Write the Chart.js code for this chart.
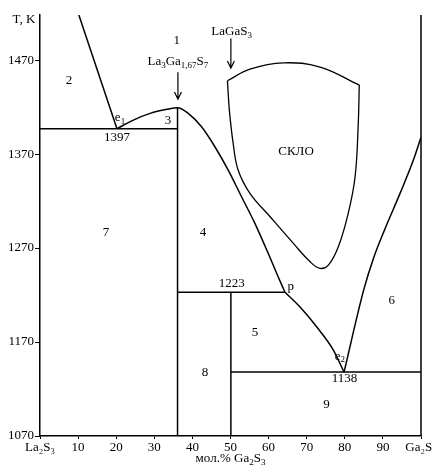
<!DOCTYPE html>
<html><head><meta charset="utf-8">
<script src="https://cdn.jsdelivr.net/npm/chart.js@4"></script>
<style>html,body{margin:0;padding:0;background:#fff}</style>
</head><body>
<canvas id="c" width="432" height="469"></canvas>
<script>
// ---- data (composition in mol.% Ga2S3, temperature in K) ----
const xTicks = [0,10,20,30,40,50,60,70,80,90,100];
const xTickLabels = ['La₂S₃','10','20','30','40','50','60','70','80','90','Ga₂S₃'];
const yTicks = [1070,1170,1270,1370,1470];
const yMin = 1070, yMax = 1518;

const liquidusLeft = [[10.2,1518],[20.2,1397]];
const liquidusMax = [[20.2,1397],[24.5,1406.2],[28.9,1413.3],[33.3,1417.6],[36.1,1419.3],[38.9,1413.3],[42.4,1399],[45.9,1377.8],[49.4,1353],[52.9,1324.6],[56.4,1296.3],[59.9,1264.4],[62.5,1239.5],[64.3,1223]];
const liquidusPE = [[64.3,1223],[68.2,1207.6],[72.6,1186.3],[77.0,1161.5],[79.8,1138]];
const liquidusRight = [[79.8,1138],[85.0,1226],[87.6,1260],[90.3,1288],[94.5,1328.2],[98.0,1363.6],[100,1388]];
const compoundLine = [[36.1,1070],[36.1,1419.3]];
const laGaS3Line = [[50.1,1070],[50.1,1223]];
const eutectic1 = [[0,1397],[36.1,1397]];
const peritectic = [[36.1,1223],[64.3,1223]];
const eutectic2 = [[50.1,1138],[100,1138]];
const rightEdge = [[100,1070],[100,1518]];
const glassTop = [[49.2,1448],[55.1,1460.4],[63.9,1467.1],[73.5,1462.6],[83.8,1443.4]];
const glassSides = [[83.8,1443.4],[83.5,1399],[82.7,1345.9],[80.9,1306.9],[78.3,1271.4],[75.7,1251.9],[73.5,1248.4],[70.9,1255.4],[66.5,1275],[60.4,1303.3],[55.1,1328.2],[52.0,1353],[50.7,1381.4],[49.7,1416.8],[49.2,1448]];

const regionLabels = ['1','2','3','4','5','6','7','8','9'];
const regionX = [35.9,7.6,33.6,42.8,56.4,92.3,17.3,43.3,75.2];
const regionY = [1491,1448,1406,1286,1180,1214,1287,1138,1103];
// rich labels: parts of [text, isSubscript]
const pointLabels = [
  {parts:[['e',0],['1',1]], x:21.0, y:1409},
  {parts:[['1397',0]], x:20.2, y:1388},
  {parts:[['1223',0]], x:50.3, y:1232},
  {parts:[['p',0]], x:65.8, y:1229},
  {parts:[['e',0],['2',1]], x:78.7, y:1155},
  {parts:[['1138',0]], x:79.9, y:1131},
  {parts:[['СКЛО',0]], x:67.2, y:1373},
  {parts:[['La',0],['3',1],['Ga',0],['1,67',1],['S',0],['7',1]], x:36.2, y:1468},
  {parts:[['LaGaS',0],['3',1]], x:50.3, y:1500}
];
const arrows = [[36.2,1457,1428.5],[50.1,1493,1461.5]];

const FONT = '"Liberation Serif", "Times New Roman", serif';
const toPts = a => a.map(p => ({x:p[0], y:p[1]}));
function ds(arr, extra){ return Object.assign({data:toPts(arr), showLine:true, pointRadius:0, borderColor:'#000', borderWidth:1.5, fill:false, tension:0}, extra||{}); }

function drawRich(ctx, parts, cx, cy){
  const big = '13px ' + FONT, small = '9px ' + FONT;
  let w = 0;
  parts.forEach(p => { ctx.font = p[1] ? small : big; w += ctx.measureText(p[0]).width; });
  let x = cx - w/2;
  ctx.textAlign = 'left'; ctx.textBaseline = 'middle';
  parts.forEach(p => { ctx.font = p[1] ? small : big; ctx.fillText(p[0], x, p[1] ? cy+4 : cy); x += ctx.measureText(p[0]).width; });
}

const annot = {
  id:'annot',
  afterDatasetsDraw(chart){
    const ctx = chart.ctx, xs = chart.scales.x, ys = chart.scales.y;
    ctx.save();
    ctx.fillStyle = '#000';
    ctx.font = '13px ' + FONT; ctx.textAlign='center'; ctx.textBaseline='middle';
    regionLabels.forEach((t,i) => ctx.fillText(t, xs.getPixelForValue(regionX[i]), ys.getPixelForValue(regionY[i])));
    pointLabels.forEach(l => drawRich(ctx, l.parts, xs.getPixelForValue(l.x), ys.getPixelForValue(l.y)));
    ctx.strokeStyle = '#000'; ctx.lineWidth = 1.2;
    arrows.forEach(a => {
      const x = xs.getPixelForValue(a[0]), y1 = ys.getPixelForValue(a[1]), y2 = ys.getPixelForValue(a[2]);
      ctx.beginPath(); ctx.moveTo(x,y1); ctx.lineTo(x,y2);
      ctx.moveTo(x-3.5,y2-7); ctx.lineTo(x,y2); ctx.lineTo(x+3.5,y2-7); ctx.stroke();
    });
    // axis captions
    ctx.font = '13px ' + FONT; ctx.textAlign='center'; ctx.textBaseline='middle';
    ctx.fillText('T, K', 24, 20);
    drawRich(ctx, [['мол.% Ga',0],['2',1],['S',0],['3',1]], (xs.left+xs.right)/2, 459);
    ctx.restore();
  }
};

new Chart(document.getElementById('c'), {
  type:'scatter',
  data:{datasets:[
    ds(liquidusLeft), ds(liquidusMax,{cubicInterpolationMode:'monotone'}), ds(liquidusPE,{cubicInterpolationMode:'monotone'}),
    ds(liquidusRight,{cubicInterpolationMode:'monotone'}), ds(compoundLine), ds(laGaS3Line), ds(eutectic1), ds(peritectic), ds(eutectic2),
    ds(rightEdge,{clip:false}), ds(glassTop,{tension:0.4, borderWidth:1.3}), ds(glassSides,{tension:0.4, borderWidth:1.3})
  ]},
  options:{
    responsive:false, animation:false, devicePixelRatio:1,
    layout:{padding:{top:15,right:11,left:0,bottom:0}},
    plugins:{legend:{display:false}, tooltip:{enabled:false}},
    scales:{
      x:{type:'linear', min:0, max:100,
        afterBuildTicks:s=>{ s.ticks = xTicks.map(v=>({value:v})); },
        afterFit:s=>{ s.height = 33; s.paddingLeft = 0; s.paddingRight = 0; },
        grid:{display:true, drawOnChartArea:false, tickLength:3, color:'#000', lineWidth:1},
        border:{color:'#000', width:1.5},
        ticks:{color:'#000', font:{family:FONT, size:13}, padding:1, maxRotation:0, autoSkip:false, callback:(v,i)=>xTickLabels[i]}
      },
      y:{type:'linear', min:yMin, max:yMax,
        afterBuildTicks:s=>{ s.ticks = yTicks.map(v=>({value:v})); },
        afterFit:s=>{ s.width = 40; s.paddingTop = 0; s.paddingBottom = 0; },
        grid:{display:true, drawOnChartArea:false, tickLength:5, color:'#000', lineWidth:1},
        border:{color:'#000', width:1.5},
        ticks:{color:'#000', font:{family:FONT, size:13}, padding:1, autoSkip:false, callback:(v)=>String(v)}
      }
    }
  },
  plugins:[annot]
});
</script>
</body></html>
